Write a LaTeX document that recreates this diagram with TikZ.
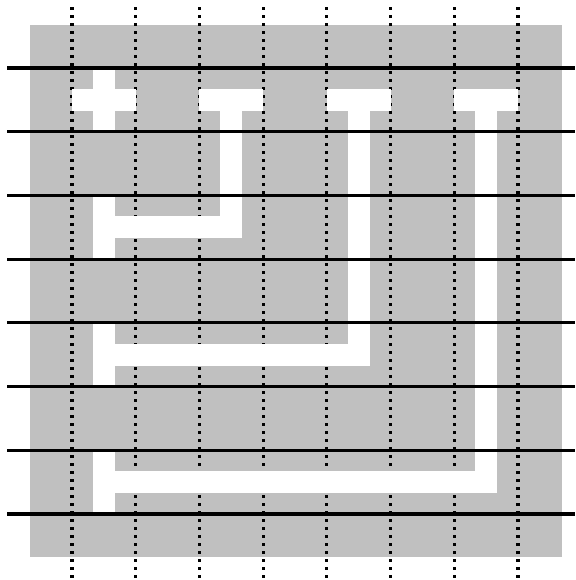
\documentclass[tikz,border=0pt]{standalone}
\usetikzlibrary{calc}
\definecolor{boardgray}{RGB}{192,192,192}
\tikzset{
  bar/.style={draw=white, line width=22pt, line cap=butt, line join=miter},
  rowline/.style={draw=black, line width=3.2pt},
  colline/.style={draw=black, line width=3.2pt, dash pattern=on 3.2pt off 4.8pt, line cap=butt},
}
\begin{document}
\begin{tikzpicture}[x=63.71pt, y=-63.71pt]
  % bounding box: 575 x 580 px, grid origin at (72,68) px
  \useasboundingbox (-1.1301,-1.0673) rectangle (7.8953,8.0364);
  % gray board
  \fill[boardgray] (-0.659,-0.675) rectangle (7.691,7.675);
  % dotted vertical lines
  \foreach \i in {0,...,7} {
    \draw[colline] (\i,-0.957) -- (\i,8.0);
  }
  % white cross
  \draw[bar] (0,0.5) -- (1,0.5);
  \draw[bar] (0.5,0) -- (0.5,1);
  % white T / L paths
  \foreach \c in {2,4,6} {
    \draw[bar] (\c,0.5) -- ({\c+1},0.5);
    \draw[bar] ({\c+0.5},0.5) -- ({\c+0.5},{\c+0.5}) -- (0.5,{\c+0.5});
    \draw[bar] (0.5,\c) -- (0.5,{\c+1});
  }
  % solid horizontal lines
  \foreach \j in {0,...,7} {
    \draw[rowline] (-1.016,\j) -- (7.8953,\j);
  }
\end{tikzpicture}
\end{document}
